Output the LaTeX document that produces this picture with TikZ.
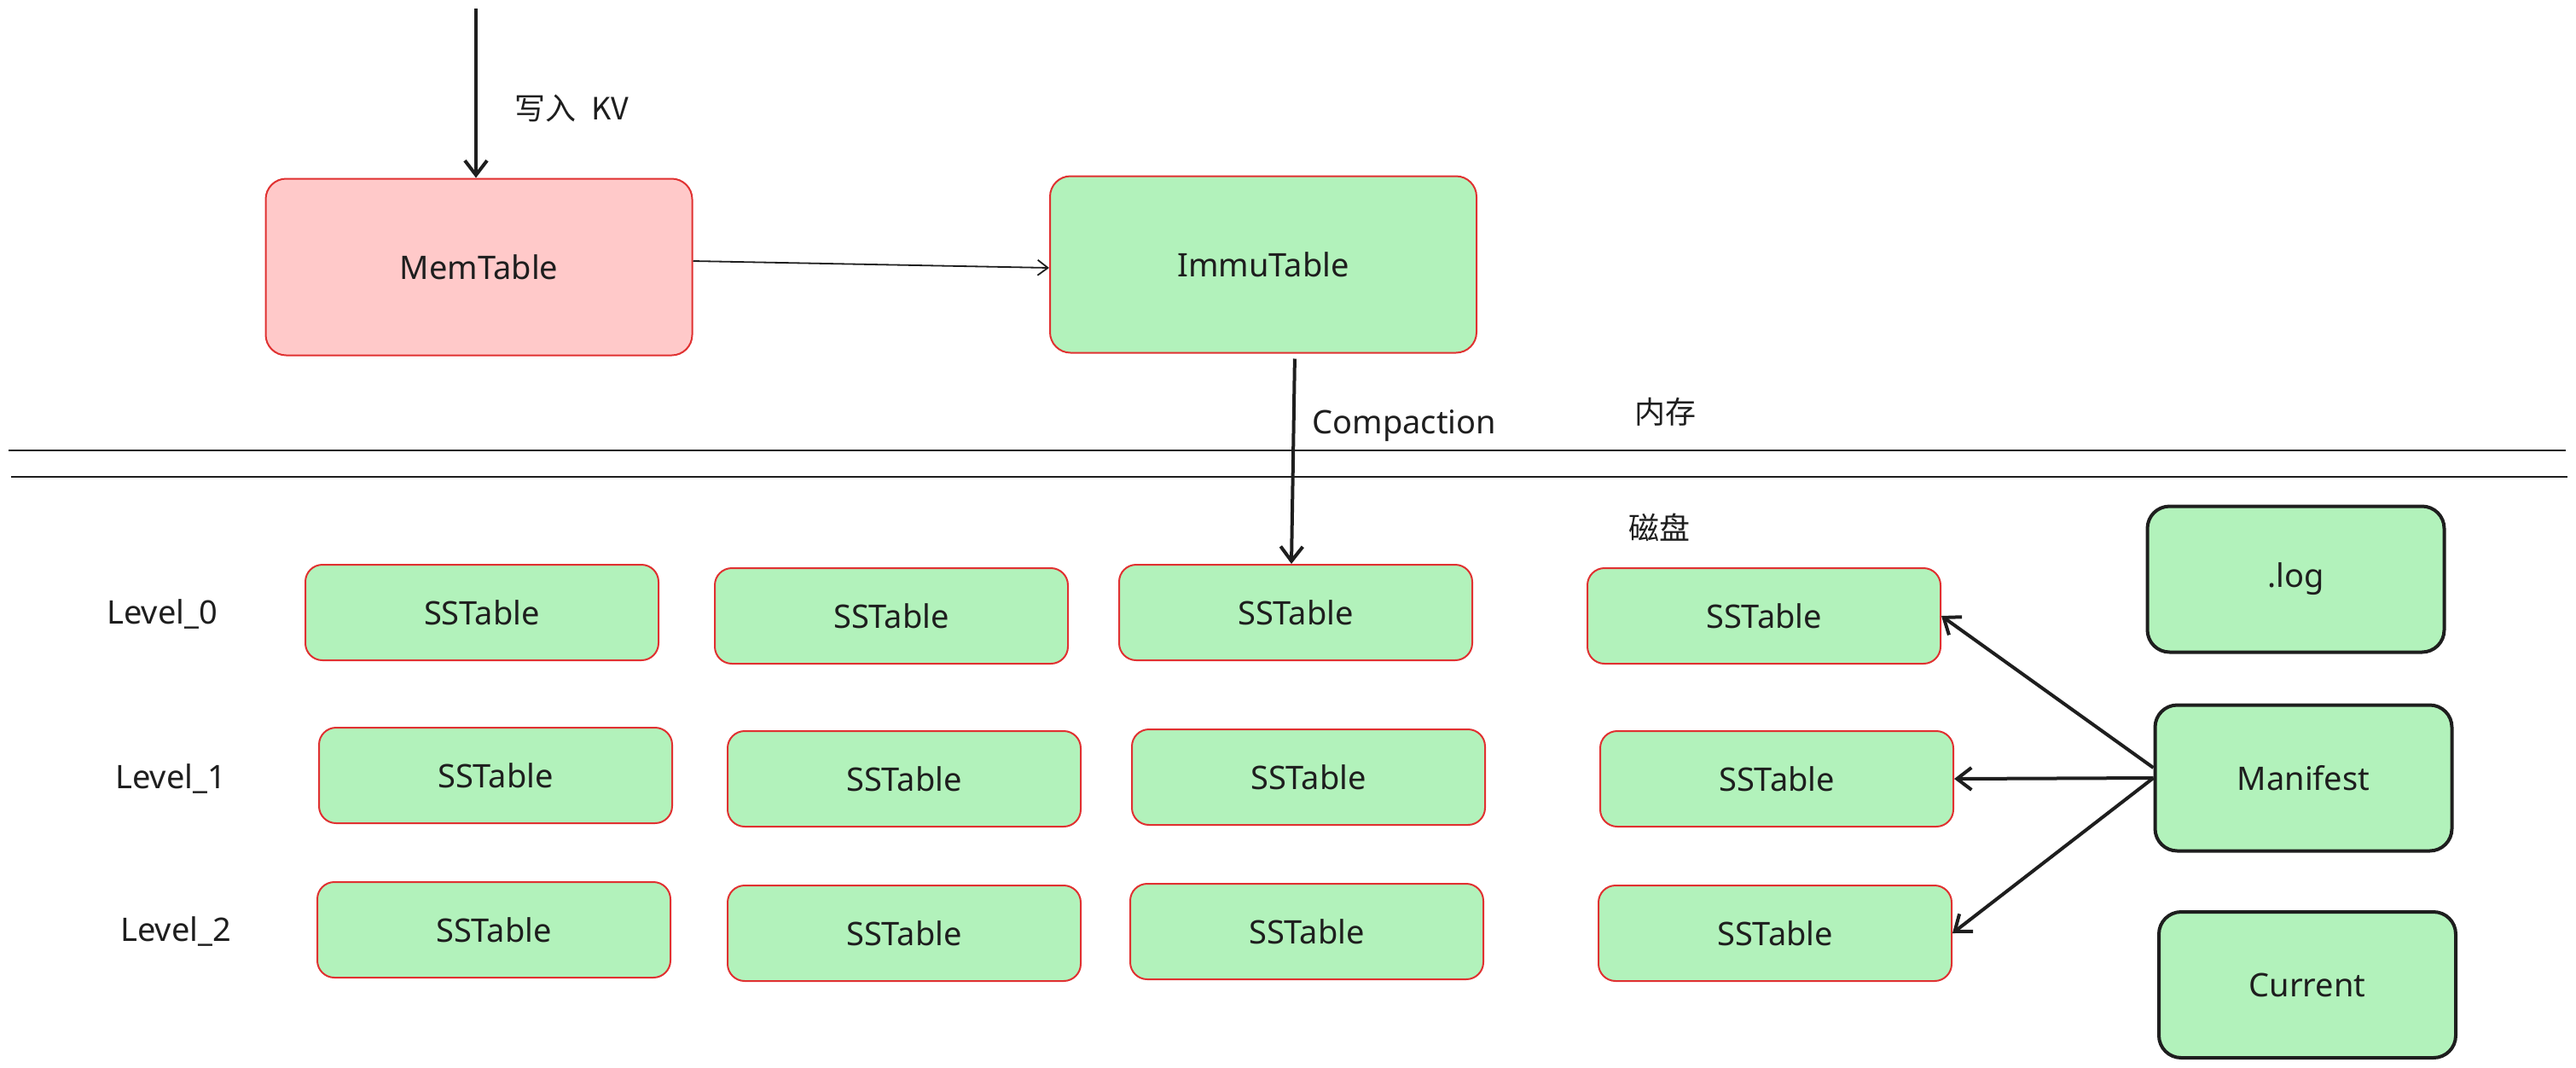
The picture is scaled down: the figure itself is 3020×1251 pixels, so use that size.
\documentclass[tikz,border=0pt]{standalone}
\usepackage{fontspec}
\setmainfont{Noto Sans}
\newfontfamily\cjk{Noto Sans CJK SC}
\usetikzlibrary{arrows.meta,calc}
\definecolor{ink}{HTML}{1E1E1E}
\definecolor{boxgreen}{HTML}{B2F2BB}
\definecolor{boxpink}{HTML}{FFC9C9}
\definecolor{boxred}{HTML}{E03131}
\begin{document}
\begin{tikzpicture}[x=1pt,y=-1pt,
  txt/.style={font=\fontsize{38}{44}\selectfont, text=ink},
  cjktxt/.style={font=\cjk\fontsize{36}{42}\selectfont, text=ink},
  bigbox/.style={txt, draw=boxred, line width=2pt, rounded corners=24pt,
    minimum width=500pt, minimum height=207pt},
  sstbl/.style={txt, draw=boxred, fill=boxgreen, line width=2pt, rounded corners=20pt,
    minimum width=414pt, minimum height=112pt},
  metabox/.style={txt, draw=ink, fill=boxgreen, line width=4pt, rounded corners=26pt,
    minimum width=348pt, minimum height=171pt},
  thickarrow/.style={draw=ink, line width=4pt, -{Straight Barb[length=17pt,width=26pt,line width=4pt]}},
  thinarrow/.style={draw=ink, line width=1.8pt, -{Straight Barb[length=12pt,width=18pt,line width=1.8pt]}},
  sepline/.style={draw=ink, line width=2.5pt}
]
\useasboundingbox (0,0) rectangle (3020,1251);

% memory part
\node[bigbox, fill=boxpink] (mem) at (561.5,313) {MemTable};
\node[bigbox, fill=boxgreen] (imm) at (1481,310) {ImmuTable};
\coordinate (input) at (558,10);
\draw[thickarrow] (input) -- (input |- mem.north);
\node[cjktxt, anchor=west] (kv) at (600,127) {写入\hspace{18pt}KV};
\draw[thinarrow] ($(mem.east)+(0,-7)$) -- ($(imm.west)+(0,4)$);

% memory / disk boundary
\draw[sepline] (10,528) -- (3008,528);
\draw[sepline] (13,559) -- (3010,559);
\node[cjktxt] (ram) at (1952,483) {内存};
\node[cjktxt] (disk) at (1945,618) {磁盘};

% level labels
\node[txt] (l0) at (190,720) {Level\_0};
\node[txt] (l1) at (200,913) {Level\_1};
\node[txt] (l2) at (206,1092) {Level\_2};

% SSTables per level
\node[sstbl] (s01) at (565,718) {SSTable};
\node[sstbl] (s02) at (1045,722) {SSTable};
\node[sstbl] (s03) at (1519,718) {SSTable};
\node[sstbl] (s04) at (2068,722) {SSTable};
\node[sstbl] (s11) at (581,909) {SSTable};
\node[sstbl] (s12) at (1060,913) {SSTable};
\node[sstbl] (s13) at (1534,911) {SSTable};
\node[sstbl] (s14) at (2083,913) {SSTable};
\node[sstbl] (s21) at (579,1090) {SSTable};
\node[sstbl] (s22) at (1060,1094) {SSTable};
\node[sstbl] (s23) at (1532,1092) {SSTable};
\node[sstbl] (s24) at (2081,1094) {SSTable};

% compaction into level 0
\draw[thickarrow, shorten <=6pt] ($(s03.north |- imm.south)+(-1,0)$) -- ($(s03.north)+(-5,0)$);
\node[txt, anchor=west] (cmp) at (1535,499) {Compaction};

% metadata files
\node[metabox] (log) at (2691.5,679) {.log};
\node[metabox] (man) at (2700.5,912) {Manifest};
\node[metabox] (cur) at (2705,1154.5) {Current};

\draw[thickarrow] ($(man.west)+(0,-12)$) -- (s04.east);
\draw[thickarrow] (man.west) -- (s14.east);
\draw[thickarrow] (man.west) -- (s24.east);
\end{tikzpicture}
\end{document}
